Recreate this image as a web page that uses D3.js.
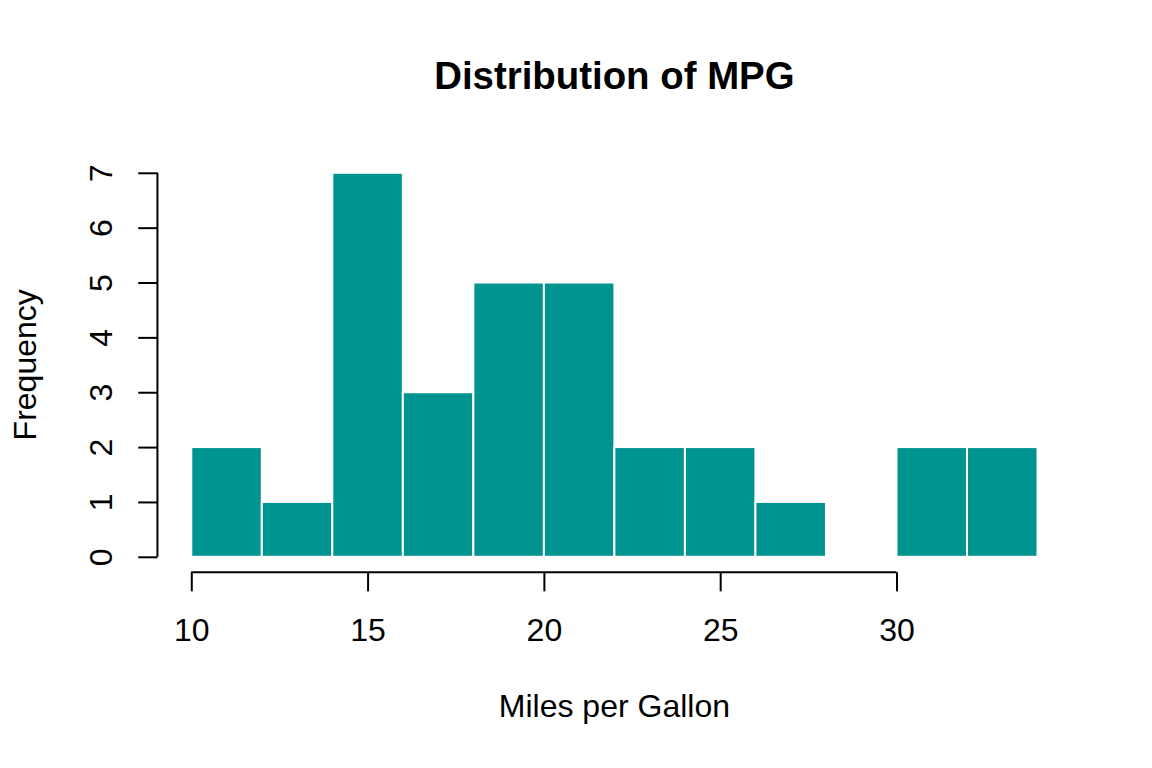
<!DOCTYPE html>
<html>
<head>
<meta charset="utf-8">
<script src="https://cdn.jsdelivr.net/npm/d3@7"></script>
<style>
  html, body { margin: 0; padding: 0; background: #ffffff; }
  svg { display: block; font-family: "Liberation Sans", Arial, Helvetica, sans-serif; }
</style>
</head>
<body>
<svg id="chart" width="1152" height="768"></svg>
<script>
// Data (histogram of MPG, bin width 2)
const binStarts = [10, 12, 14, 16, 18, 20, 22, 24, 26, 28, 30, 32];
const binWidth = 2;
const counts = [2, 1, 7, 3, 5, 5, 2, 2, 1, 0, 2, 2];
const xTicks = [10, 15, 20, 25, 30];
const yTicks = [0, 1, 2, 3, 4, 5, 6, 7];
const titleText = "Distribution of MPG";
const xLabel = "Miles per Gallon";
const yLabel = "Frequency";

const W = 1152, H = 768;
const line = 38.4;
const plot = { left: 4.1 * line, right: W - 2.1 * line, top: 4.1 * line, bottom: H - 5.1 * line };

const xMin = d3.min(binStarts), xMax = d3.max(binStarts) + binWidth;
const xPad = (xMax - xMin) * 0.04;
const yMax = d3.max(counts);
const yPad = yMax * 0.04;

const x = d3.scaleLinear().domain([xMin - xPad, xMax + xPad]).range([plot.left, plot.right]);
const y = d3.scaleLinear().domain([-yPad, yMax + yPad]).range([plot.bottom, plot.top]);

const svg = d3.select("#chart");
const fill = "#009491";

// Bars
svg.append("g").selectAll("rect")
  .data(binStarts.map((s, i) => ({ s, c: counts[i] })))
  .join("rect")
  .attr("x", d => x(d.s))
  .attr("width", d => x(d.s + binWidth) - x(d.s))
  .attr("y", d => y(d.c))
  .attr("height", d => y(0) - y(d.c))
  .attr("fill", fill)
  .attr("stroke", "#ffffff")
  .attr("stroke-width", 2);

// X axis
const xAxis = svg.append("g")
  .attr("transform", `translate(0,${plot.bottom})`)
  .call(d3.axisBottom(x).tickValues(xTicks).tickSize(19.2).tickPadding(0).tickFormat(d3.format("d")));
xAxis.select(".domain").remove();
xAxis.append("line")
  .attr("x1", x(xTicks[0])).attr("x2", x(xTicks[xTicks.length - 1]))
  .attr("y1", 0).attr("y2", 0)
  .attr("stroke", "#000").attr("stroke-width", 2);
xAxis.selectAll(".tick line").attr("stroke", "#000").attr("stroke-width", 2);
xAxis.selectAll(".tick text")
  .attr("fill", "#000")
  .attr("font-size", 32)
  .attr("dy", null)
  .attr("y", 641 - plot.bottom)
  .attr("font-family", "Liberation Sans, Arial, sans-serif");

// Y axis
const yAxis = svg.append("g")
  .attr("transform", `translate(${plot.left},0)`)
  .call(d3.axisLeft(y).tickValues(yTicks).tickSize(19.2).tickFormat(d3.format("d")));
yAxis.select(".domain").remove();
yAxis.append("line")
  .attr("x1", 0).attr("x2", 0)
  .attr("y1", y(yTicks[0])).attr("y2", y(yTicks[yTicks.length - 1]))
  .attr("stroke", "#000").attr("stroke-width", 2);
yAxis.selectAll(".tick line").attr("stroke", "#000").attr("stroke-width", 2);
yAxis.selectAll(".tick text")
  .attr("fill", "#000")
  .attr("font-size", 32)
  .attr("x", null).attr("dy", null)
  .attr("text-anchor", "middle")
  .attr("font-family", "Liberation Sans, Arial, sans-serif")
  .attr("transform", `translate(${112 - plot.left},0) rotate(-90)`);

// Title
svg.append("text")
  .attr("x", (plot.left + plot.right) / 2)
  .attr("y", 89)
  .attr("text-anchor", "middle")
  .attr("font-size", 38.4)
  .attr("font-weight", "bold")
  .attr("fill", "#000")
  .text(titleText);

// X label
svg.append("text")
  .attr("x", (plot.left + plot.right) / 2)
  .attr("y", 717)
  .attr("text-anchor", "middle")
  .attr("font-size", 32)
  .attr("fill", "#000")
  .text(xLabel);

// Y label
svg.append("text")
  .attr("transform", `translate(36,${(plot.top + plot.bottom) / 2}) rotate(-90)`)
  .attr("text-anchor", "middle")
  .attr("font-size", 32)
  .attr("fill", "#000")
  .text(yLabel);
</script>
</body>
</html>
